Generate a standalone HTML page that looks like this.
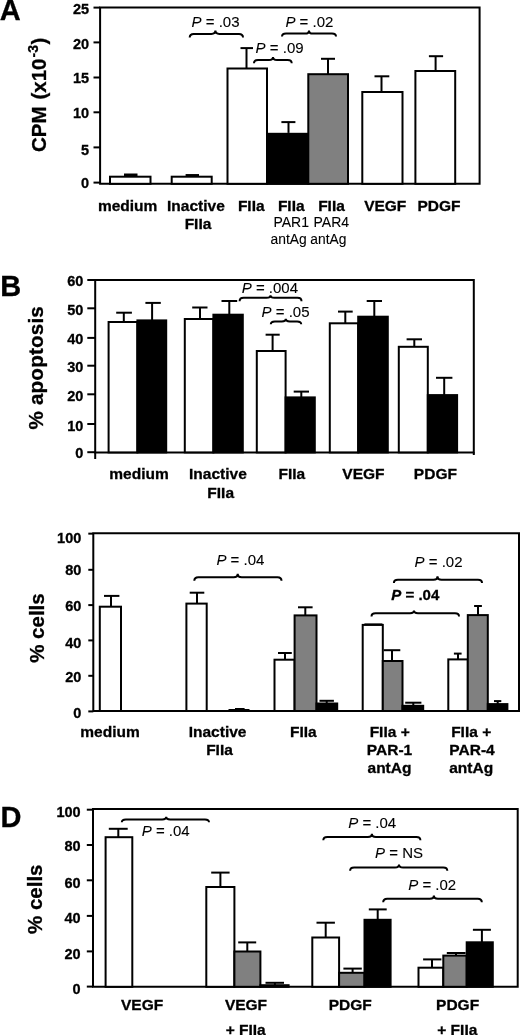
<!DOCTYPE html>
<html><head><meta charset="utf-8"><style>
html,body{margin:0;padding:0;background:#fff;}
body{width:520px;height:1035px;overflow:hidden;}
svg{display:block;font-family:"Liberation Sans", sans-serif;filter:grayscale(1);}
text{stroke:#000;stroke-width:0.3px;}
text[font-weight="normal"]{stroke-width:0.1px;}
</style></head><body>
<svg width="520" height="1035" viewBox="0 0 520 1035">
<rect x="0" y="0" width="520" height="1035" fill="#fff"/>
<text x="-0.3" y="20.3" font-size="29" font-weight="bold" text-anchor="start"  >A</text>
<text transform="translate(46.4,152) rotate(-90)" font-size="20.5" font-weight="bold" letter-spacing="0">CPM <tspan dx="1.2">(x10</tspan><tspan dy="-8" dx="1.1" font-size="14">-3</tspan><tspan dy="8" dx="0.5">)</tspan></text>
<path d="M100.1,183.8 L100.1,7.6 L479.6,7.6 L479.6,183.8 Z" fill="none" stroke="#000" stroke-width="2"/>
<line x1="93.5" y1="182.6" x2="100.1" y2="182.6" stroke="#000" stroke-width="2"/>
<text x="89.1" y="187.49999999999997" font-size="14.5" font-weight="bold" text-anchor="end"  >0</text>
<line x1="93.5" y1="147.4" x2="100.1" y2="147.4" stroke="#000" stroke-width="2"/>
<text x="89.1" y="154.5" font-size="14.5" font-weight="bold" text-anchor="end"  >5</text>
<line x1="93.5" y1="112.3" x2="100.1" y2="112.3" stroke="#000" stroke-width="2"/>
<text x="89.1" y="117.7" font-size="14.5" font-weight="bold" text-anchor="end"  >10</text>
<line x1="93.5" y1="77.5" x2="100.1" y2="77.5" stroke="#000" stroke-width="2"/>
<text x="89.1" y="82.7" font-size="14.5" font-weight="bold" text-anchor="end"  >15</text>
<line x1="93.5" y1="42.4" x2="100.1" y2="42.4" stroke="#000" stroke-width="2"/>
<text x="89.1" y="48.6" font-size="14.5" font-weight="bold" text-anchor="end"  >20</text>
<line x1="93.5" y1="7.6" x2="100.1" y2="7.6" stroke="#000" stroke-width="2"/>
<text x="89.1" y="14.0" font-size="14.5" font-weight="bold" text-anchor="end"  >25</text>
<rect x="110" y="176.7" width="40.5" height="7.100000000000023" fill="#fff" stroke="#000" stroke-width="2"/>
<line x1="124" y1="175" x2="137.5" y2="175" stroke="#000" stroke-width="3"/>
<rect x="171.7" y="176.7" width="40.0" height="7.100000000000023" fill="#fff" stroke="#000" stroke-width="2"/>
<line x1="185.6" y1="175.3" x2="199" y2="175.3" stroke="#000" stroke-width="2.5"/>
<rect x="227.5" y="68.5" width="39.5" height="115.30000000000001" fill="#fff" stroke="#000" stroke-width="2"/>
<line x1="246.5" y1="68.5" x2="246.5" y2="48.1" stroke="#000" stroke-width="2"/>
<line x1="240.5" y1="48.1" x2="253" y2="48.1" stroke="#000" stroke-width="2"/>
<rect x="267" y="133.8" width="41.30000000000001" height="50.0" fill="#000" stroke="#000" stroke-width="2"/>
<line x1="288.5" y1="132.9" x2="288.5" y2="122.1" stroke="#000" stroke-width="2"/>
<line x1="281.4" y1="122.1" x2="295.4" y2="122.1" stroke="#000" stroke-width="2"/>
<rect x="308.3" y="74.2" width="39.69999999999999" height="109.60000000000001" fill="#808080" stroke="#000" stroke-width="2"/>
<line x1="328" y1="74.2" x2="328" y2="58.8" stroke="#000" stroke-width="2"/>
<line x1="321" y1="58.8" x2="335" y2="58.8" stroke="#000" stroke-width="2"/>
<rect x="362.3" y="92" width="40.19999999999999" height="91.80000000000001" fill="#fff" stroke="#000" stroke-width="2"/>
<line x1="381.5" y1="92" x2="381.5" y2="76.3" stroke="#000" stroke-width="2"/>
<line x1="374.5" y1="76.3" x2="389.3" y2="76.3" stroke="#000" stroke-width="2"/>
<rect x="415.4" y="71" width="39.80000000000001" height="112.80000000000001" fill="#fff" stroke="#000" stroke-width="2"/>
<line x1="435.6" y1="71" x2="435.6" y2="56.2" stroke="#000" stroke-width="2"/>
<line x1="428.9" y1="56.2" x2="443.1" y2="56.2" stroke="#000" stroke-width="2"/>
<text x="215.5" y="26.9" font-size="15" font-weight="normal" text-anchor="middle"><tspan font-style="italic">P</tspan> = .03</text>
<path d="M189.7,37.4 Q189.7,33.9 193.7,33.9 L211.4,33.9 Q215.4,33.9 215.4,30.6 Q215.4,33.9 219.4,33.9 L239,33.9 Q243,33.9 243,37.4" fill="none" stroke="#000" stroke-width="2"/>
<text x="279.6" y="52.5" font-size="15" font-weight="normal" text-anchor="middle"><tspan font-style="italic">P</tspan> = .09</text>
<path d="M254,63.3 Q254,60 258,60 L269,60 Q273,60 273,57 Q273,60 277,60 L287.7,60 Q291.7,60 291.7,63.3" fill="none" stroke="#000" stroke-width="2"/>
<text x="309.4" y="27" font-size="15" font-weight="normal" text-anchor="middle"><tspan font-style="italic">P</tspan> = .02</text>
<path d="M282,36.6 Q282,33.6 286,33.6 L305,33.6 Q309,33.6 309,30.4 Q309,33.6 313,33.6 L332,33.6 Q336,33.6 336,36.6" fill="none" stroke="#000" stroke-width="2"/>
<text x="127.6" y="210.5" font-size="15.5" font-weight="bold" text-anchor="middle"  >medium</text>
<text x="195.9" y="210.5" font-size="15.5" font-weight="bold" text-anchor="middle"  >Inactive</text>
<text x="251.25" y="210.5" font-size="15.5" font-weight="bold" text-anchor="middle"  >FIIa</text>
<text x="291.25" y="210.5" font-size="15.5" font-weight="bold" text-anchor="middle"  >FIIa</text>
<text x="331.5" y="210.5" font-size="15.5" font-weight="bold" text-anchor="middle"  >FIIa</text>
<text x="385.25" y="210.5" font-size="15.5" font-weight="bold" text-anchor="middle"  >VEGF</text>
<text x="439" y="210.5" font-size="15.5" font-weight="bold" text-anchor="middle"  >PDGF</text>
<text x="198" y="228.7" font-size="15.5" font-weight="bold" text-anchor="middle"  >FIIa</text>
<text x="291.2" y="227.2" font-size="14" font-weight="normal" text-anchor="middle"  >PAR1</text>
<text x="331.3" y="227.2" font-size="14" font-weight="normal" text-anchor="middle"  >PAR4</text>
<text x="288.6" y="243.75" font-size="13.8" font-weight="normal" text-anchor="middle"  >antAg</text>
<text x="328.4" y="243.75" font-size="13.8" font-weight="normal" text-anchor="middle"  >antAg</text>
<text x="0.3" y="296.3" font-size="29" font-weight="bold" text-anchor="start"  >B</text>
<text transform="translate(43.2,429.5) rotate(-90)" font-size="20.6" font-weight="bold" letter-spacing="0.2">% apoptosis</text>
<path d="M95.2,452.4 L95.2,280 L473.8,280 L473.8,452.4 Z" fill="none" stroke="#000" stroke-width="2"/>
<line x1="95.2" y1="452.4" x2="95.2" y2="459" stroke="#000" stroke-width="2"/>
<line x1="473.8" y1="452.4" x2="473.8" y2="455" stroke="#000" stroke-width="2"/>
<line x1="87.3" y1="452.2" x2="95.2" y2="452.2" stroke="#000" stroke-width="2"/>
<text x="83.3" y="457.79999999999995" font-size="14.5" font-weight="bold" text-anchor="end"  >0</text>
<line x1="87.3" y1="424" x2="95.2" y2="424" stroke="#000" stroke-width="2"/>
<text x="83.3" y="430.5" font-size="14.5" font-weight="bold" text-anchor="end"  >10</text>
<line x1="87.3" y1="394.3" x2="95.2" y2="394.3" stroke="#000" stroke-width="2"/>
<text x="83.3" y="400.7" font-size="14.5" font-weight="bold" text-anchor="end"  >20</text>
<line x1="87.3" y1="365.7" x2="95.2" y2="365.7" stroke="#000" stroke-width="2"/>
<text x="83.3" y="372.4" font-size="14.5" font-weight="bold" text-anchor="end"  >30</text>
<line x1="87.3" y1="337.9" x2="95.2" y2="337.9" stroke="#000" stroke-width="2"/>
<text x="83.3" y="344.2" font-size="14.5" font-weight="bold" text-anchor="end"  >40</text>
<line x1="87.3" y1="308.3" x2="95.2" y2="308.3" stroke="#000" stroke-width="2"/>
<text x="83.3" y="315.3" font-size="14.5" font-weight="bold" text-anchor="end"  >50</text>
<line x1="87.3" y1="280" x2="95.2" y2="280" stroke="#000" stroke-width="2"/>
<text x="83.3" y="286.4" font-size="14.5" font-weight="bold" text-anchor="end"  >60</text>
<rect x="108.6" y="322" width="28.80000000000001" height="130.39999999999998" fill="#fff" stroke="#000" stroke-width="2"/>
<line x1="123.8" y1="322" x2="123.8" y2="312.7" stroke="#000" stroke-width="2"/>
<line x1="116.2" y1="312.7" x2="131.9" y2="312.7" stroke="#000" stroke-width="2"/>
<rect x="137.4" y="320.4" width="28.799999999999983" height="132.0" fill="#000" stroke="#000" stroke-width="2"/>
<line x1="152.1" y1="320.4" x2="152.1" y2="302.9" stroke="#000" stroke-width="2"/>
<line x1="145.4" y1="302.9" x2="160.8" y2="302.9" stroke="#000" stroke-width="2"/>
<rect x="184.8" y="319" width="28.599999999999994" height="133.39999999999998" fill="#fff" stroke="#000" stroke-width="2"/>
<line x1="200" y1="319" x2="200" y2="307.5" stroke="#000" stroke-width="2"/>
<line x1="192.2" y1="307.5" x2="207.5" y2="307.5" stroke="#000" stroke-width="2"/>
<rect x="213.4" y="314.7" width="29.399999999999977" height="137.7" fill="#000" stroke="#000" stroke-width="2"/>
<line x1="229.3" y1="314.7" x2="229.3" y2="301" stroke="#000" stroke-width="2"/>
<line x1="221.5" y1="301" x2="237.2" y2="301" stroke="#000" stroke-width="2"/>
<rect x="256.8" y="351" width="28.80000000000001" height="101.39999999999998" fill="#fff" stroke="#000" stroke-width="2"/>
<line x1="272.6" y1="351" x2="272.6" y2="334.7" stroke="#000" stroke-width="2"/>
<line x1="265.6" y1="334.7" x2="279.7" y2="334.7" stroke="#000" stroke-width="2"/>
<rect x="285.6" y="397.4" width="29.19999999999999" height="55.0" fill="#000" stroke="#000" stroke-width="2"/>
<line x1="301.3" y1="397.4" x2="301.3" y2="391.6" stroke="#000" stroke-width="2"/>
<line x1="293.7" y1="391.6" x2="309" y2="391.6" stroke="#000" stroke-width="2"/>
<rect x="329.8" y="323.3" width="28.399999999999977" height="129.09999999999997" fill="#fff" stroke="#000" stroke-width="2"/>
<line x1="345.3" y1="323.3" x2="345.3" y2="311.6" stroke="#000" stroke-width="2"/>
<line x1="338" y1="311.6" x2="352.7" y2="311.6" stroke="#000" stroke-width="2"/>
<rect x="358.2" y="316.7" width="29.600000000000023" height="135.7" fill="#000" stroke="#000" stroke-width="2"/>
<line x1="374.3" y1="316.7" x2="374.3" y2="301" stroke="#000" stroke-width="2"/>
<line x1="366.7" y1="301" x2="382" y2="301" stroke="#000" stroke-width="2"/>
<rect x="398.8" y="346.8" width="29.0" height="105.59999999999997" fill="#fff" stroke="#000" stroke-width="2"/>
<line x1="414.3" y1="346.8" x2="414.3" y2="339.3" stroke="#000" stroke-width="2"/>
<line x1="406.6" y1="339.3" x2="422" y2="339.3" stroke="#000" stroke-width="2"/>
<rect x="427.8" y="395.09999999999997" width="29.299999999999955" height="57.30000000000001" fill="#000" stroke="#000" stroke-width="2"/>
<line x1="444.2" y1="395.09999999999997" x2="444.2" y2="377.8" stroke="#000" stroke-width="2"/>
<line x1="436" y1="377.8" x2="452.4" y2="377.8" stroke="#000" stroke-width="2"/>
<text x="269.9" y="293.3" font-size="15" font-weight="normal" text-anchor="middle"><tspan font-style="italic">P</tspan> = .004</text>
<path d="M239.6,301.2 Q239.6,297.8 243.6,297.8 L266.5,297.8 Q270.5,297.8 270.5,295.2 Q270.5,297.8 274.5,297.8 L297.5,297.8 Q301.5,297.8 301.5,301.2" fill="none" stroke="#000" stroke-width="2"/>
<text x="285.5" y="316.9" font-size="15" font-weight="normal" text-anchor="middle"><tspan font-style="italic">P</tspan> = .05</text>
<path d="M270.8,324.2 Q270.8,321.4 274.8,321.4 L281.8,321.4 Q285.8,321.4 285.8,318.8 Q285.8,321.4 289.8,321.4 L297.2,321.4 Q301.2,321.4 301.2,324.2" fill="none" stroke="#000" stroke-width="2"/>
<text x="139" y="479.4" font-size="15.5" font-weight="bold" text-anchor="middle"  >medium</text>
<text x="217.9" y="479.4" font-size="15.5" font-weight="bold" text-anchor="middle"  >Inactive</text>
<text x="291.8" y="479.4" font-size="15.5" font-weight="bold" text-anchor="middle"  >FIIa</text>
<text x="363.4" y="479.4" font-size="15.5" font-weight="bold" text-anchor="middle"  >VEGF</text>
<text x="435.4" y="479.4" font-size="15.5" font-weight="bold" text-anchor="middle"  >PDGF</text>
<text x="220.7" y="497.7" font-size="15.5" font-weight="bold" text-anchor="middle"  >FIIa</text>
<text transform="translate(43.9,662.8) rotate(-90)" font-size="20.5" font-weight="bold" letter-spacing="0">% cells</text>
<path d="M93.3,711 L93.3,533.3 L519,533.3 L519,711 Z" fill="none" stroke="#000" stroke-width="2"/>
<line x1="88.3" y1="711.4" x2="93.3" y2="711.4" stroke="#000" stroke-width="2"/>
<text x="81.3" y="717.9" font-size="14.5" font-weight="bold" text-anchor="end"  >0</text>
<line x1="88.3" y1="675.8" x2="93.3" y2="675.8" stroke="#000" stroke-width="2"/>
<text x="81.3" y="681.9" font-size="14.5" font-weight="bold" text-anchor="end"  >20</text>
<line x1="88.3" y1="640.4" x2="93.3" y2="640.4" stroke="#000" stroke-width="2"/>
<text x="81.3" y="647.9" font-size="14.5" font-weight="bold" text-anchor="end"  >40</text>
<line x1="88.3" y1="605.1" x2="93.3" y2="605.1" stroke="#000" stroke-width="2"/>
<text x="81.3" y="610.6" font-size="14.5" font-weight="bold" text-anchor="end"  >60</text>
<line x1="88.3" y1="569.8" x2="93.3" y2="569.8" stroke="#000" stroke-width="2"/>
<text x="81.3" y="575.4" font-size="14.5" font-weight="bold" text-anchor="end"  >80</text>
<line x1="88.3" y1="533.65" x2="93.3" y2="533.65" stroke="#000" stroke-width="2"/>
<text x="81.3" y="542.95" font-size="14.5" font-weight="bold" text-anchor="end"  >100</text>
<rect x="99.8" y="606.7" width="21.200000000000003" height="104.29999999999995" fill="#fff" stroke="#000" stroke-width="2"/>
<line x1="111" y1="606.7" x2="111" y2="595.9" stroke="#000" stroke-width="2"/>
<line x1="104" y1="595.9" x2="119.4" y2="595.9" stroke="#000" stroke-width="2"/>
<rect x="186.4" y="603.6" width="20.299999999999983" height="107.39999999999998" fill="#fff" stroke="#000" stroke-width="2"/>
<line x1="197" y1="603.6" x2="197" y2="592.7" stroke="#000" stroke-width="2"/>
<line x1="189.7" y1="592.7" x2="204.3" y2="592.7" stroke="#000" stroke-width="2"/>
<rect x="274.5" y="659.7" width="20.100000000000023" height="51.299999999999955" fill="#fff" stroke="#000" stroke-width="2"/>
<line x1="285" y1="659.7" x2="285" y2="653" stroke="#000" stroke-width="2"/>
<line x1="278" y1="653" x2="291.8" y2="653" stroke="#000" stroke-width="2"/>
<rect x="294.6" y="615.4" width="21.899999999999977" height="95.60000000000002" fill="#808080" stroke="#000" stroke-width="2"/>
<line x1="305.3" y1="615.4" x2="305.3" y2="607.3" stroke="#000" stroke-width="2"/>
<line x1="298" y1="607.3" x2="312.6" y2="607.3" stroke="#000" stroke-width="2"/>
<rect x="316.5" y="703.5" width="20.69999999999999" height="7.5" fill="#000" stroke="#000" stroke-width="2"/>
<line x1="326.7" y1="703.5" x2="326.7" y2="700.8" stroke="#000" stroke-width="2"/>
<line x1="319.5" y1="700.8" x2="333.9" y2="700.8" stroke="#000" stroke-width="2"/>
<rect x="362.7" y="624.9" width="20.100000000000023" height="86.10000000000002" fill="#fff" stroke="#000" stroke-width="2"/>
<line x1="373" y1="624.9" x2="373" y2="624.4" stroke="#000" stroke-width="2"/>
<line x1="364.4" y1="624.4" x2="382.4" y2="624.4" stroke="#000" stroke-width="2"/>
<rect x="382.8" y="661" width="19.69999999999999" height="50" fill="#808080" stroke="#000" stroke-width="2"/>
<line x1="392" y1="661" x2="392" y2="650.2" stroke="#000" stroke-width="2"/>
<line x1="383.7" y1="650.2" x2="400.3" y2="650.2" stroke="#000" stroke-width="2"/>
<rect x="402.5" y="705.8" width="20.69999999999999" height="5.2000000000000455" fill="#000" stroke="#000" stroke-width="2"/>
<line x1="413.3" y1="705.8" x2="413.3" y2="702.7" stroke="#000" stroke-width="2"/>
<line x1="405.2" y1="702.7" x2="421.4" y2="702.7" stroke="#000" stroke-width="2"/>
<rect x="448.3" y="659.4" width="19.5" height="51.60000000000002" fill="#fff" stroke="#000" stroke-width="2"/>
<line x1="458" y1="659.4" x2="458" y2="653.6" stroke="#000" stroke-width="2"/>
<line x1="453.9" y1="653.6" x2="461.6" y2="653.6" stroke="#000" stroke-width="2"/>
<rect x="467.8" y="615.1" width="20.0" height="95.89999999999998" fill="#808080" stroke="#000" stroke-width="2"/>
<line x1="478" y1="615.1" x2="478" y2="606" stroke="#000" stroke-width="2"/>
<line x1="474.1" y1="606" x2="481.9" y2="606" stroke="#000" stroke-width="2"/>
<rect x="487.8" y="704.1" width="19.599999999999966" height="6.899999999999977" fill="#000" stroke="#000" stroke-width="2"/>
<line x1="497.7" y1="704.1" x2="497.7" y2="701.1" stroke="#000" stroke-width="2"/>
<line x1="494" y1="701.1" x2="501.3" y2="701.1" stroke="#000" stroke-width="2"/>
<line x1="228.5" y1="710" x2="249.5" y2="710" stroke="#000" stroke-width="2"/>
<line x1="235" y1="709" x2="244.6" y2="709" stroke="#000" stroke-width="2"/>
<text x="240.4" y="564.6" font-size="15" font-weight="normal" text-anchor="middle"><tspan font-style="italic">P</tspan> = .04</text>
<path d="M194.3,580.8 Q194.3,577.3 198.3,577.3 L233.7,577.3 Q237.7,577.3 237.7,573.8 Q237.7,577.3 241.7,577.3 L277.5,577.3 Q281.5,577.3 281.5,580.8" fill="none" stroke="#000" stroke-width="2"/>
<text x="438.5" y="566.7" font-size="15" font-weight="normal" text-anchor="middle"><tspan font-style="italic">P</tspan> = .02</text>
<path d="M393.9,582.9 Q393.9,579.7 397.9,579.7 L433.5,579.7 Q437.5,579.7 437.5,576.2 Q437.5,579.7 441.5,579.7 L478,579.7 Q482,579.7 482,582.9" fill="none" stroke="#000" stroke-width="2"/>
<text x="415.3" y="599.9" font-size="15" font-weight="bold" text-anchor="middle"><tspan font-style="italic">P</tspan> = .04</text>
<path d="M371.5,616.5 Q371.5,613.3 375.5,613.3 L410,613.3 Q414,613.3 414,610.6 Q414,613.3 418,613.3 L455,613.3 Q459,613.3 459,616.5" fill="none" stroke="#000" stroke-width="2"/>
<text x="110" y="737.3" font-size="15.5" font-weight="bold" text-anchor="middle"  >medium</text>
<text x="217.6" y="737.3" font-size="15.5" font-weight="bold" text-anchor="middle"  >Inactive</text>
<text x="303.3" y="737.3" font-size="15.5" font-weight="bold" text-anchor="middle"  >FIIa</text>
<text x="389.7" y="737.3" font-size="15.5" font-weight="bold" text-anchor="middle"  >FIIa +</text>
<text x="471.2" y="737.3" font-size="15.5" font-weight="bold" text-anchor="middle"  >FIIa +</text>
<text x="219.5" y="755.4" font-size="15.5" font-weight="bold" text-anchor="middle"  >FIIa</text>
<text x="389.5" y="755.4" font-size="15.5" font-weight="bold" text-anchor="middle"  >PAR-1</text>
<text x="472" y="755.4" font-size="15.5" font-weight="bold" text-anchor="middle"  >PAR-4</text>
<text x="389.5" y="772.9" font-size="15.5" font-weight="bold" text-anchor="middle"  >antAg</text>
<text x="471.2" y="772.9" font-size="15.5" font-weight="bold" text-anchor="middle"  >antAg</text>
<text x="0.5" y="827.2" font-size="29" font-weight="bold" text-anchor="start"  >D</text>
<text transform="translate(42.4,934) rotate(-90)" font-size="20.5" font-weight="bold" letter-spacing="0">% cells</text>
<path d="M93,986.8 L93,809 L517.7,809 L517.7,986.8 Z" fill="none" stroke="#000" stroke-width="2"/>
<line x1="86.8" y1="986.6" x2="93" y2="986.6" stroke="#000" stroke-width="2"/>
<text x="80.6" y="993.9000000000001" font-size="14.5" font-weight="bold" text-anchor="end"  >0</text>
<line x1="86.8" y1="951.4" x2="93" y2="951.4" stroke="#000" stroke-width="2"/>
<text x="80.6" y="958.5" font-size="14.5" font-weight="bold" text-anchor="end"  >20</text>
<line x1="86.8" y1="915.9" x2="93" y2="915.9" stroke="#000" stroke-width="2"/>
<text x="80.6" y="923.3000000000001" font-size="14.5" font-weight="bold" text-anchor="end"  >40</text>
<line x1="86.8" y1="880.3" x2="93" y2="880.3" stroke="#000" stroke-width="2"/>
<text x="80.6" y="887.5" font-size="14.5" font-weight="bold" text-anchor="end"  >60</text>
<line x1="86.8" y1="845" x2="93" y2="845" stroke="#000" stroke-width="2"/>
<text x="80.6" y="851.1" font-size="14.5" font-weight="bold" text-anchor="end"  >80</text>
<line x1="86.8" y1="809.7" x2="93" y2="809.7" stroke="#000" stroke-width="2"/>
<text x="80.6" y="817.1000000000001" font-size="14.5" font-weight="bold" text-anchor="end"  >100</text>
<rect x="105.6" y="837.2" width="26.700000000000017" height="149.5999999999999" fill="#fff" stroke="#000" stroke-width="2"/>
<line x1="118.3" y1="837.2" x2="118.3" y2="828.8" stroke="#000" stroke-width="2"/>
<line x1="108.8" y1="828.8" x2="127.7" y2="828.8" stroke="#000" stroke-width="2"/>
<rect x="206.3" y="887" width="28.099999999999994" height="99.79999999999995" fill="#fff" stroke="#000" stroke-width="2"/>
<line x1="220.4" y1="887" x2="220.4" y2="872.6" stroke="#000" stroke-width="2"/>
<line x1="211.2" y1="872.6" x2="229.6" y2="872.6" stroke="#000" stroke-width="2"/>
<rect x="234.4" y="951.5" width="25.99999999999997" height="35.299999999999955" fill="#808080" stroke="#000" stroke-width="2"/>
<line x1="247.3" y1="951.5" x2="247.3" y2="942.4" stroke="#000" stroke-width="2"/>
<line x1="238.2" y1="942.4" x2="256.2" y2="942.4" stroke="#000" stroke-width="2"/>
<rect x="260.4" y="985.1999999999999" width="28.19999999999999" height="1.6000000000000227" fill="#000" stroke="#000" stroke-width="2"/>
<line x1="274.9" y1="985.1999999999999" x2="274.9" y2="982.8" stroke="#000" stroke-width="2"/>
<line x1="265.5" y1="982.8" x2="284" y2="982.8" stroke="#000" stroke-width="2"/>
<rect x="312.3" y="937.5" width="26.80000000000001" height="49.299999999999955" fill="#fff" stroke="#000" stroke-width="2"/>
<line x1="325.7" y1="937.5" x2="325.7" y2="922.7" stroke="#000" stroke-width="2"/>
<line x1="316.5" y1="922.7" x2="334.9" y2="922.7" stroke="#000" stroke-width="2"/>
<rect x="339.1" y="972.8" width="25.399999999999977" height="14.0" fill="#808080" stroke="#000" stroke-width="2"/>
<line x1="352.6" y1="972.8" x2="352.6" y2="968.6" stroke="#000" stroke-width="2"/>
<line x1="343.4" y1="968.6" x2="361.8" y2="968.6" stroke="#000" stroke-width="2"/>
<rect x="364.5" y="919.8" width="26.099999999999966" height="67.0" fill="#000" stroke="#000" stroke-width="2"/>
<line x1="377.7" y1="919.8" x2="377.7" y2="909.4" stroke="#000" stroke-width="2"/>
<line x1="368.8" y1="909.4" x2="386.7" y2="909.4" stroke="#000" stroke-width="2"/>
<rect x="418.5" y="967.7" width="24.80000000000001" height="19.09999999999991" fill="#fff" stroke="#000" stroke-width="2"/>
<line x1="432" y1="967.7" x2="432" y2="959.4" stroke="#000" stroke-width="2"/>
<line x1="423.1" y1="959.4" x2="441.4" y2="959.4" stroke="#000" stroke-width="2"/>
<rect x="443.3" y="955.6" width="23.399999999999977" height="31.199999999999932" fill="#808080" stroke="#000" stroke-width="2"/>
<line x1="456" y1="955.6" x2="456" y2="953" stroke="#000" stroke-width="2"/>
<line x1="446.8" y1="953" x2="465.6" y2="953" stroke="#000" stroke-width="2"/>
<rect x="466.7" y="942.3" width="26.100000000000023" height="44.5" fill="#000" stroke="#000" stroke-width="2"/>
<line x1="481.9" y1="942.3" x2="481.9" y2="929.8" stroke="#000" stroke-width="2"/>
<line x1="472.9" y1="929.8" x2="490.9" y2="929.8" stroke="#000" stroke-width="2"/>
<text x="165.7" y="835.5" font-size="15" font-weight="normal" text-anchor="middle"><tspan font-style="italic">P</tspan> = .04</text>
<path d="M121.8,822.2 Q121.8,819.4 125.8,819.4 L162.2,819.4 Q166.2,819.4 166.2,816.7 Q166.2,819.4 170.2,819.4 L205,819.4 Q209,819.4 209,822.2" fill="none" stroke="#000" stroke-width="2"/>
<text x="372.2" y="827.9" font-size="15" font-weight="normal" text-anchor="middle"><tspan font-style="italic">P</tspan> = .04</text>
<path d="M323.3,840.3 Q323.3,837 327.3,837 L367.9,837 Q371.9,837 371.9,833.8 Q371.9,837 375.9,837 L416.4,837 Q420.4,837 420.4,840.3" fill="none" stroke="#000" stroke-width="2"/>
<text x="399" y="857.7" font-size="15" font-weight="normal" text-anchor="middle"><tspan font-style="italic">P</tspan> = NS</text>
<path d="M350.1,870.8 Q350.1,867.5 354.1,867.5 L395,867.5 Q399,867.5 399,864.5 Q399,867.5 403,867.5 L443.3,867.5 Q447.3,867.5 447.3,870.8" fill="none" stroke="#000" stroke-width="2"/>
<text x="432.2" y="889.7" font-size="15" font-weight="normal" text-anchor="middle"><tspan font-style="italic">P</tspan> = .02</text>
<path d="M383.2,902.3 Q383.2,898.8 387.2,898.8 L429.9,898.8 Q433.9,898.8 433.9,895.6 Q433.9,898.8 437.9,898.8 L477.8,898.8 Q481.8,898.8 481.8,902.3" fill="none" stroke="#000" stroke-width="2"/>
<text x="142.1" y="1010" font-size="15.5" font-weight="bold" text-anchor="middle"  >VEGF</text>
<text x="246" y="1010" font-size="15.5" font-weight="bold" text-anchor="middle"  >VEGF</text>
<text x="350.3" y="1010" font-size="15.5" font-weight="bold" text-anchor="middle"  >PDGF</text>
<text x="457.6" y="1010" font-size="15.5" font-weight="bold" text-anchor="middle"  >PDGF</text>
<text x="245.7" y="1035" font-size="15.5" font-weight="bold" text-anchor="middle"  >+ FIIa</text>
<text x="457.3" y="1035" font-size="15.5" font-weight="bold" text-anchor="middle"  >+ FIIa</text>
</svg>
</body></html>
